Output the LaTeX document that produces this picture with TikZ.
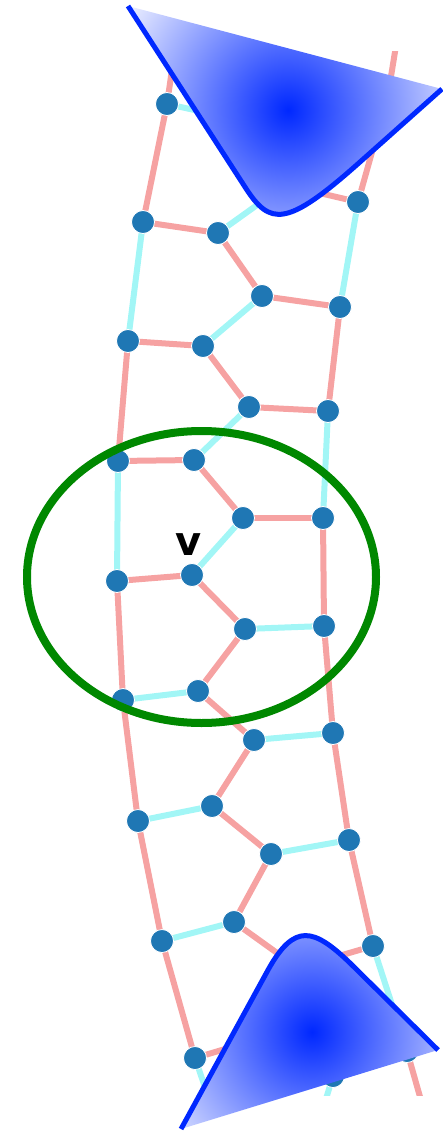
\documentclass[tikz,border=0pt]{standalone}
\usepackage{fontspec}
\newfontfamily\labelfont{DejaVu Sans Bold}
\definecolor{vertblue}{RGB}{31,119,180}
\definecolor{edgered}{RGB}{246,162,162}
\definecolor{edgecyan}{RGB}{162,246,246}
\definecolor{wedgeblue}{RGB}{0,40,255}
\definecolor{ringgreen}{RGB}{0,136,0}
\begin{document}
\begin{tikzpicture}[x=1pt,y=-1pt,
  redge/.style={line width=6pt,draw=edgered},
  cedge/.style={line width=6pt,draw=edgecyan},
  vert/.style={circle,fill=vertblue,draw=white,line width=0.8pt,minimum size=23pt,inner sep=0pt},
  wedgeline/.style={line width=5pt,draw=wedgeblue},
  ringline/.style={line width=8pt,draw=ringgreen}]
\useasboundingbox (0,0) rectangle (442,1131);
\coordinate (l0) at (167,104);
\coordinate (l1) at (143,222);
\coordinate (l2) at (128,341);
\coordinate (l3) at (118,461);
\coordinate (l4) at (117,581);
\coordinate (l5) at (123,700);
\coordinate (l6) at (138,821);
\coordinate (l7) at (162,941);
\coordinate (l8) at (195,1058);
\coordinate (a0) at (240,120);
\coordinate (a1) at (218,233);
\coordinate (a2) at (203,346);
\coordinate (a3) at (194,460);
\coordinate (a4) at (192,575);
\coordinate (a5) at (198,691);
\coordinate (a6) at (212,806);
\coordinate (a7) at (234,922);
\coordinate (a8) at (262,1038);
\coordinate (b0) at (285,185);
\coordinate (b1) at (262,296);
\coordinate (b2) at (249,407);
\coordinate (b3) at (243,518);
\coordinate (b4) at (245,629);
\coordinate (b5) at (254,740);
\coordinate (b6) at (271,854);
\coordinate (b7) at (298,968);
\coordinate (b8) at (333,1076);
\coordinate (r0) at (358,202);
\coordinate (r1) at (340,307);
\coordinate (r2) at (328,411);
\coordinate (r3) at (323,518);
\coordinate (r4) at (324,626);
\coordinate (r5) at (333,733);
\coordinate (r6) at (349,840);
\coordinate (r7) at (373,946);
\coordinate (r8) at (407,1051);
\coordinate (lt) at (185,-20);
\coordinate (bt) at (300,70);
\coordinate (rt1) at (388,95);
\coordinate (rt2) at (405,-10);
\coordinate (lb) at (235,1175);
\coordinate (bb) at (318,1125);
\coordinate (rb) at (428,1125);
\begin{scope}
\clip (0,52) rectangle (442,1095);
\draw[redge] (lt) -- (l0) -- (l1);
\draw[cedge] (l1) -- (l2);
\draw[redge] (l2) -- (l3);
\draw[cedge] (l3) -- (l4);
\draw[redge] (l4) -- (l5) -- (l6) -- (l7) -- (l8);
\draw[cedge] (l8) -- (lb);
\draw[redge] (rt2) -- (rt1) -- (r0);
\draw[cedge] (r0) -- (r1);
\draw[redge] (r1) -- (r2);
\draw[cedge] (r2) -- (r3);
\draw[redge] (r3) -- (r4) -- (r5) -- (r6) -- (r7);
\draw[cedge] (r7) -- (r8);
\draw[redge] (r8) -- (rb);
\draw[redge] (bt) -- (a0) -- (b0);
\draw[cedge] (b0) -- (a1);
\draw[redge] (a1) -- (b1);
\draw[cedge] (b1) -- (a2);
\draw[redge] (a2) -- (b2);
\draw[cedge] (b2) -- (a3);
\draw[redge] (a3) -- (b3);
\draw[cedge] (b3) -- (a4);
\draw[redge] (a4) -- (b4) -- (a5) -- (b5) -- (a6) -- (b6) -- (a7) -- (b7);
\draw[cedge] (b7) -- (a8);
\draw[redge] (a8) -- (b8);
\draw[cedge] (b8) -- (bb);
\draw[cedge] (l0) -- (a0);
\draw[redge] (l1) -- (a1);
\draw[redge] (l2) -- (a2);
\draw[redge] (l3) -- (a3);
\draw[redge] (l4) -- (a4);
\draw[cedge] (l5) -- (a5);
\draw[cedge] (l6) -- (a6);
\draw[cedge] (l7) -- (a7);
\draw[redge] (l8) -- (a8);
\draw[redge] (b0) -- (r0);
\draw[redge] (b1) -- (r1);
\draw[redge] (b2) -- (r2);
\draw[redge] (b3) -- (r3);
\draw[cedge] (b4) -- (r4);
\draw[cedge] (b5) -- (r5);
\draw[cedge] (b6) -- (r6);
\draw[redge] (b7) -- (r7);
\draw[redge] (b8) -- (r8);
\end{scope}
\foreach \n in {l0,l1,l2,l3,l4,l5,l6,l7,l8,a1,a2,a3,a4,a5,a6,a7,b1,b2,b3,b4,b5,b6,b8,r0,r1,r2,r3,r4,r5,r6,r7,r8}
  \node[vert] (v\n) at (\n) {};
\node[font=\labelfont\fontsize{40}{44}\selectfont] (vlabel) at (189,545) {v};
\draw[ringline] (201.5,577) ellipse [x radius=174.5, y radius=146];
\begin{scope}
\clip (128,6) -- (245,187) .. controls (270,226) and (286,228) .. (360,162) -- (442,89) -- cycle;
\shade[inner color=wedgeblue, outer color=white] (288,110) circle (205);
\end{scope}
\draw[wedgeline] (128,6) -- (245,187) .. controls (270,226) and (286,228) .. (360,162) -- (442,89);
\begin{scope}
\clip (181,1129) -- (268,970) .. controls (294.6,922) and (314,928.5) .. (350,963) -- (438,1050) -- cycle;
\shade[inner color=wedgeblue, outer color=white] (312,1032) circle (200);
\end{scope}
\draw[wedgeline] (181,1129) -- (268,970) .. controls (294.6,922) and (314,928.5) .. (350,963) -- (438,1050);
\end{tikzpicture}
\end{document}
